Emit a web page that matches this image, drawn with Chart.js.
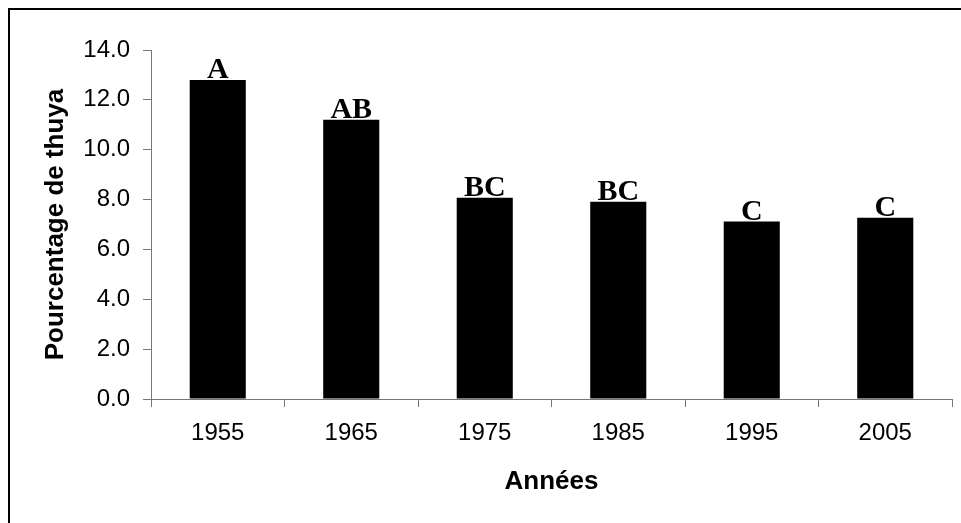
<!DOCTYPE html>
<html>
<head>
<meta charset="utf-8">
<script src="https://cdn.jsdelivr.net/npm/chart.js@4"></script>
<style>
  html, body { margin: 0; padding: 0; background: #fff; }
  #wrap { width: 961px; height: 523px; }
</style>
</head>
<body>
<div id="wrap"><canvas id="c" width="961" height="523"></canvas></div>
<script>
const categories = ["1955", "1965", "1975", "1985", "1995", "2005"];
const values = [12.8, 11.2, 8.07, 7.91, 7.12, 7.27];
const groupLetters = ["A", "AB", "BC", "BC", "C", "C"];
const yTitle = "Pourcentage de thuya";
const xTitle = "Années";

const frame = {
  id: 'frame',
  beforeDraw(chart) {
    const ctx = chart.ctx;
    ctx.save();
    ctx.fillStyle = '#fff';
    ctx.fillRect(0, 0, chart.width, chart.height);
    ctx.strokeStyle = '#000';
    ctx.lineWidth = 2;
    ctx.strokeRect(9, 9, 2000, 2000);
    ctx.restore();
  }
};

const letters = {
  id: 'letters',
  afterDatasetsDraw(chart) {
    const ctx = chart.ctx;
    const meta = chart.getDatasetMeta(0);
    ctx.save();
    ctx.font = 'bold 30px "Liberation Serif", "Times New Roman", serif';
    ctx.fillStyle = '#000';
    ctx.textAlign = 'center';
    ctx.textBaseline = 'alphabetic';
    meta.data.forEach((bar, i) => {
      ctx.fillText(groupLetters[i], bar.x, bar.y - 2);
    });
    ctx.restore();
  }
};

new Chart(document.getElementById('c'), {
  type: 'bar',
  data: {
    labels: categories,
    datasets: [{
      data: values,
      backgroundColor: '#000',
      borderWidth: 0,
      barPercentage: 0.42,
      categoryPercentage: 1.0
    }]
  },
  options: {
    responsive: false,
    animation: false,
    events: [],
    layout: { padding: { left: 36, right: 9, top: 50, bottom: 0 } },
    plugins: { legend: { display: false }, tooltip: { enabled: false } },
    scales: {
      x: {
        grid: { display: true, drawOnChartArea: false, drawTicks: true, tickLength: 8, color: '#777', offset: true },
        border: { display: true, color: '#777', width: 1 },
        ticks: { color: '#000', padding: 12, font: { family: '"Liberation Sans", Arial, sans-serif', size: 24 }, maxRotation: 0 },
        title: { display: true, text: xTitle, color: '#000', padding: { top: 0, bottom: 26 },
                 font: { family: '"Liberation Sans", Arial, sans-serif', size: 26, weight: 'bold' } },
        afterFit(scale) { scale.height = 124; }
      },
      y: {
        min: 0, max: 14,
        grid: { display: true, drawOnChartArea: false, drawTicks: true, tickLength: 8, color: '#777' },
        border: { display: true, color: '#777', width: 1 },
        ticks: { stepSize: 2, color: '#000', padding: 13, callback: v => Number(v).toFixed(1),
                 font: { family: '"Liberation Sans", Arial, sans-serif', size: 24 } },
        title: { display: true, text: yTitle, color: '#000', padding: { top: 4, bottom: 4 },
                 font: { family: '"Liberation Sans", Arial, sans-serif', size: 26, weight: 'bold' } },
        afterFit(scale) { scale.width = 151 - 36; }
      }
    }
  },
  plugins: [frame, letters]
});
</script>
</body>
</html>
